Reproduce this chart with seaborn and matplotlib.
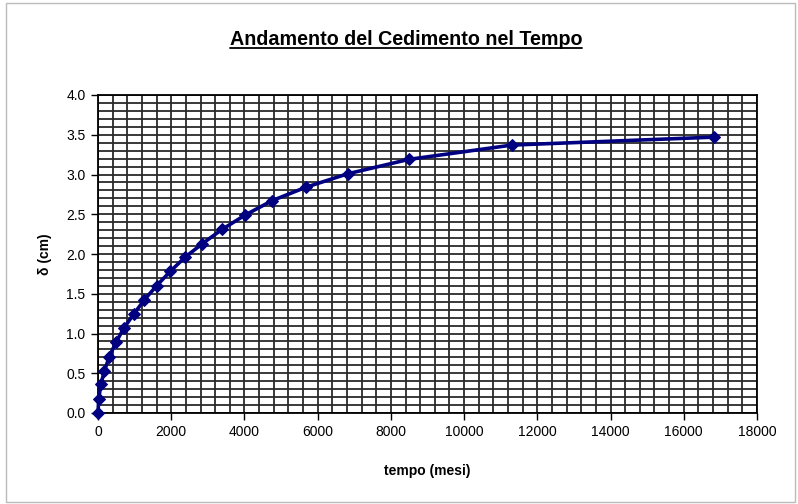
import numpy as np
import pandas as pd
import matplotlib
matplotlib.use("Agg")
import matplotlib.pyplot as plt
from matplotlib.ticker import MultipleLocator
from matplotlib.lines import Line2D
import seaborn as sns

# data
tempo = [0, 20, 80, 175, 310, 490, 710, 970, 1260, 1600, 1970,
         2380, 2850, 3390, 4020, 4750, 5680, 6830, 8490, 11300, 16820]
delta = [0.0, 0.18, 0.36, 0.53, 0.71, 0.89, 1.07, 1.24, 1.42, 1.60, 1.78,
         1.96, 2.13, 2.31, 2.49, 2.67, 2.84, 3.01, 3.19, 3.37, 3.47]

df = pd.DataFrame({"tempo": tempo, "delta": delta})

sns.set_style("white")
plt.rcParams['font.family'] = ['Liberation Sans', 'DejaVu Sans']
plt.rcParams['text.color'] = 'black'
plt.rcParams['axes.labelcolor'] = 'black'
plt.rcParams['xtick.color'] = 'black'
plt.rcParams['ytick.color'] = 'black'

fig = plt.figure(figsize=(7.98, 5.04), dpi=100)
ax = fig.add_axes([98/798, 1-413/504, (757-98)/798, (413-95)/504])

sns.lineplot(data=df, x="tempo", y="delta", ax=ax, sort=False,
             color="#000080", linewidth=2.6, marker="D", markersize=6.5,
             markeredgecolor="#000080", clip_on=False, zorder=5)

ax.set_xlim(0, 18000)
ax.set_ylim(0, 4.0)
ax.xaxis.set_major_locator(MultipleLocator(2000))
ax.xaxis.set_minor_locator(MultipleLocator(400))
ax.yaxis.set_major_locator(MultipleLocator(0.5))
ax.yaxis.set_minor_locator(MultipleLocator(0.1))
ax.set_yticks(np.arange(0, 4.01, 0.5))
ax.set_yticklabels([f"{v:.1f}" for v in np.arange(0, 4.01, 0.5)])

ax.grid(True, which="both", color="#2a2a2a", linewidth=1.3)
ax.set_axisbelow(True)
ax.tick_params(axis="both", which="major", direction="out", length=5,
               width=1, labelsize=10, pad=4, left=True, bottom=True)
ax.tick_params(which="minor", length=0)
for s in ax.spines.values():
    s.set_color("black")
    s.set_linewidth(1.3)

ax.set_xlabel("tempo (mesi)", fontsize=10, fontweight="bold", labelpad=18)
ax.set_ylabel("δ (cm)", fontsize=10, fontweight="bold")
ax.yaxis.set_label_coords(-46/659, 0.5)

title = fig.text(406/798, 1-40/504, "Andamento del Cedimento nel Tempo",
                 ha="center", va="center", fontsize=14.2, fontweight="bold")
fig.canvas.draw()
bb = title.get_window_extent().transformed(fig.transFigure.inverted())
fig.add_artist(Line2D([bb.x0, bb.x1], [bb.y0 + 0.002, bb.y0 + 0.002],
                      color="black", linewidth=1.3))

# chart area border
fig.add_artist(plt.Rectangle((0.008, 0.004), 0.988, 0.99, fill=False,
                             edgecolor="#bbbbbb", linewidth=1,
                             transform=fig.transFigure))

fig.savefig("out.png", dpi=100, facecolor="white")
